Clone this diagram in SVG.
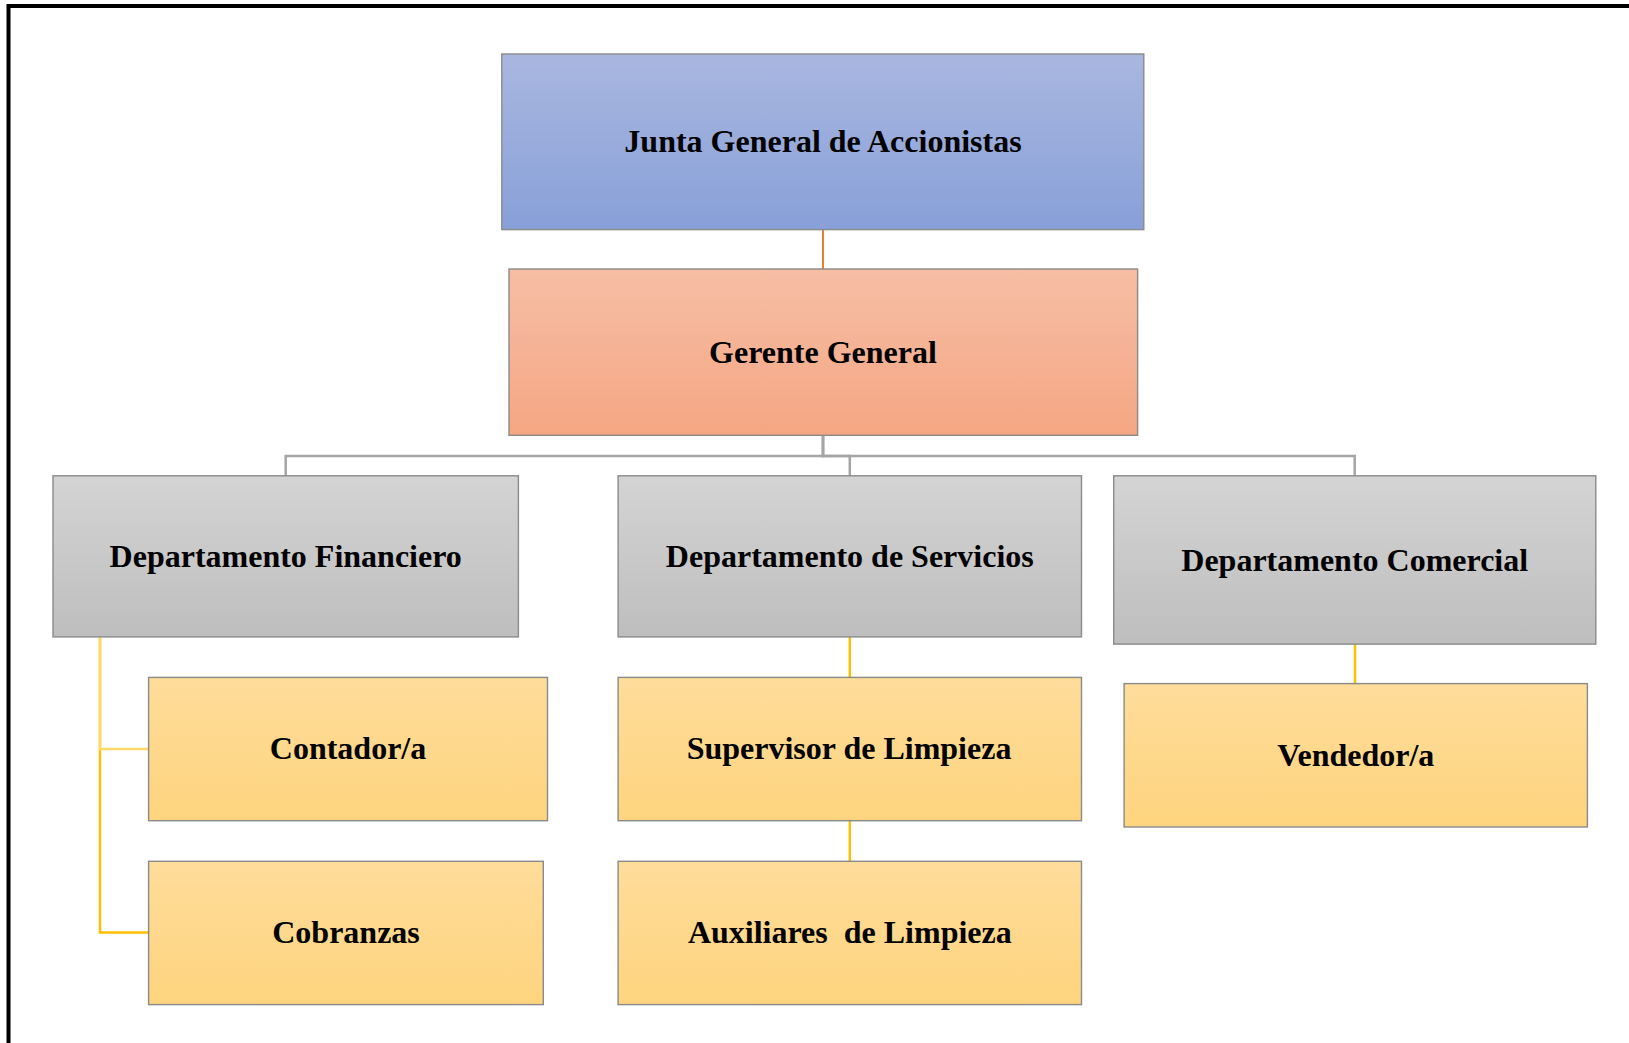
<svg xmlns="http://www.w3.org/2000/svg" width="1629" height="1043" viewBox="0 0 1629 1043">
<defs>
<linearGradient id="gBlue" x1="0" y1="0" x2="0" y2="1"><stop offset="0" stop-color="#A9B7E0"/><stop offset="1" stop-color="#88A0D8"/></linearGradient>
<linearGradient id="gOrange" x1="0" y1="0" x2="0" y2="1"><stop offset="0" stop-color="#F6BEA5"/><stop offset="1" stop-color="#F5A683"/></linearGradient>
<linearGradient id="gGray" x1="0" y1="0" x2="0" y2="1"><stop offset="0" stop-color="#D4D4D4"/><stop offset="1" stop-color="#BEBEBE"/></linearGradient>
<linearGradient id="gYellow" x1="0" y1="0" x2="0" y2="1"><stop offset="0" stop-color="#FEDC9A"/><stop offset="1" stop-color="#FED47E"/></linearGradient>
</defs>
<style>
.box{stroke:#8A8A8A;stroke-width:1.4}
.lbl{font-family:"Liberation Serif","Times New Roman",serif;font-weight:bold;font-size:32px;fill:#000;text-anchor:middle}
.cg{fill:none;stroke:#A5A5A5;stroke-width:2.5}
.cy{fill:none;stroke:#FFC000;stroke-width:2.5}
.cyl{fill:none;stroke:#FFDA6A;stroke-width:2.5}
.co{fill:none;stroke:#ED7D31;stroke-width:2}
</style>
<rect x="0" y="0" width="1629" height="1043" fill="#FFFFFF"/>
<rect x="8.5" y="6" width="1700" height="1100" fill="none" stroke="#000" stroke-width="4"/>
<g id="connectors">
<line class="co" x1="823" y1="229.6" x2="823" y2="269"/>
<polyline class="cg" points="823,435.3 823,456 285.7,456 285.7,475.8"/>
<polyline class="cg" points="823,435.3 823,456 849.8,456 849.8,475.8"/>
<polyline class="cg" points="823,435.3 823,456 1354.7,456 1354.7,475.8"/>
<polyline class="cy" points="100,636.9 100,932.5 148.6,932.5"/>
<polyline class="cyl" points="100,636.9 100,749 148.6,749"/>
<line class="cy" x1="849.8" y1="636.9" x2="849.8" y2="677.4"/>
<line class="cy" x1="849.8" y1="820.7" x2="849.8" y2="861.3"/>
<line class="cy" x1="1355" y1="644.1" x2="1355" y2="683.6"/>
</g>
<g id="junta"><rect class="box" x="501.8" y="54" width="642" height="175.6" fill="url(#gBlue)"/><text class="lbl" x="823" y="152">Junta General de Accionistas</text></g>
<g id="gerente"><rect class="box" x="509" y="269" width="628.6" height="166.3" fill="url(#gOrange)"/><text class="lbl" x="823" y="363">Gerente General</text></g>
<g id="financiero"><rect class="box" x="53" y="475.8" width="465.4" height="161.1" fill="url(#gGray)"/><text class="lbl" x="285.7" y="567">Departamento Financiero</text></g>
<g id="servicios"><rect class="box" x="618.1" y="475.8" width="463.4" height="161.1" fill="url(#gGray)"/><text class="lbl" x="849.8" y="567">Departamento de Servicios</text></g>
<g id="comercial"><rect class="box" x="1113.7" y="475.8" width="482.1" height="168.3" fill="url(#gGray)"/><text class="lbl" x="1354.7" y="570.5">Departamento Comercial</text></g>
<g id="contador"><rect class="box" x="148.6" y="677.4" width="398.9" height="143.3" fill="url(#gYellow)"/><text class="lbl" x="348" y="759">Contador/a</text></g>
<g id="cobranzas"><rect class="box" x="148.6" y="861.3" width="394.7" height="143.3" fill="url(#gYellow)"/><text class="lbl" x="346" y="943">Cobranzas</text></g>
<g id="supervisor"><rect class="box" x="618.1" y="677.4" width="463.4" height="143.3" fill="url(#gYellow)"/><text class="lbl" x="849" y="759">Supervisor de Limpieza</text></g>
<g id="auxiliares"><rect class="box" x="618.1" y="861.3" width="463.4" height="143.3" fill="url(#gYellow)"/><text class="lbl" x="849.8" y="943" xml:space="preserve" style="white-space:pre">Auxiliares  de Limpieza</text></g>
<g id="vendedor"><rect class="box" x="1124.1" y="683.6" width="463.3" height="143.4" fill="url(#gYellow)"/><text class="lbl" x="1355.8" y="766">Vendedor/a</text></g>
</svg>
